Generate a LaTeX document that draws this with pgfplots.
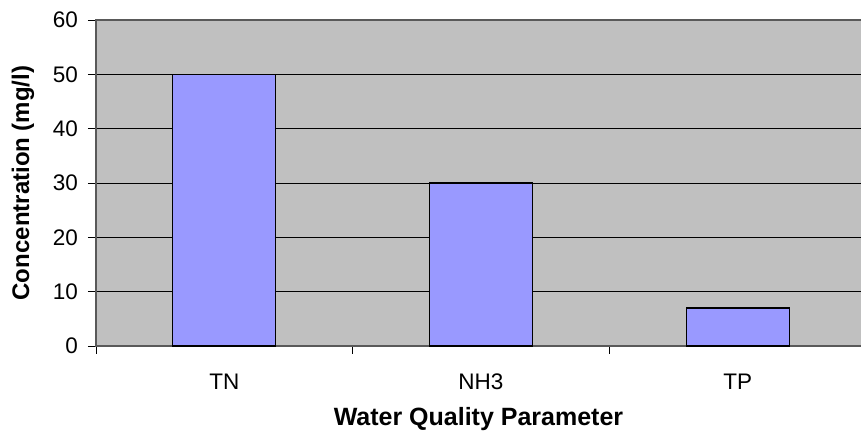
\documentclass[border=0pt]{standalone}
\usepackage{fontspec}
\setmainfont{Liberation Sans}
\usepackage{pgfplots}
\pgfplotsset{compat=1.18}
\definecolor{barblue}{HTML}{9999FF}
\definecolor{plotbg}{HTML}{C0C0C0}
\begin{document}
\begin{tikzpicture}
\begin{axis}[
  name=ax,
  scale only axis,
  width=770pt, height=326pt,
  xmin=-0.5, xmax=2.5,
  ymin=0, ymax=60,
  ytick={0,10,20,30,40,50,60},
  xtick={0,1,2},
  xticklabels={TN,NH3,TP},
  minor xtick={-0.5,0.5,1.5,2.5},
  xtick pos=bottom, ytick pos=left,
  major x tick style={draw=none},
  minor x tick style={draw=black, line width=0.8pt},
  y tick style={draw=black, line width=0.8pt},
  tick align=outside,
  major tick length=8pt,
  minor tick length=8pt,
  ymajorgrids,
  major grid style={draw=black, line width=0.8pt},
  axis line style={draw=black!65, line width=1.2pt},
  axis background/.style={fill=plotbg},
  /pgf/number format/assume math mode=true,
  yticklabel style={font=\fontsize{22.5pt}{26pt}\selectfont, inner sep=0pt, anchor=east, xshift=-10pt},
  xticklabel style={font=\fontsize{22.5pt}{26pt}\selectfont, inner sep=0pt, anchor=base, yshift=-35pt},
  xlabel={Water Quality Parameter},
  ylabel={Concentration (mg/l)},
  every axis x label/.style={at={([xshift=-2.5pt]axis description cs:0.5,-0.2255)}, anchor=center, font=\bfseries\fontsize{25pt}{30pt}\selectfont},
  every axis y label/.style={at={([xshift=-73pt]axis description cs:0,0.5)}, rotate=90, anchor=center, font=\bfseries\fontsize{24pt}{28pt}\selectfont},
  clip=false,
]
\addplot[ybar, bar width=103pt, fill=barblue, draw=black, line width=1.3pt] coordinates {(0,50) (1,30) (2,7)};
\end{axis}
\pgfresetboundingbox
\path ([shift={(-96pt,-92pt)}]ax.south west) rectangle ([shift={(-5pt,20pt)}]ax.north east);
\end{tikzpicture}
\end{document}
